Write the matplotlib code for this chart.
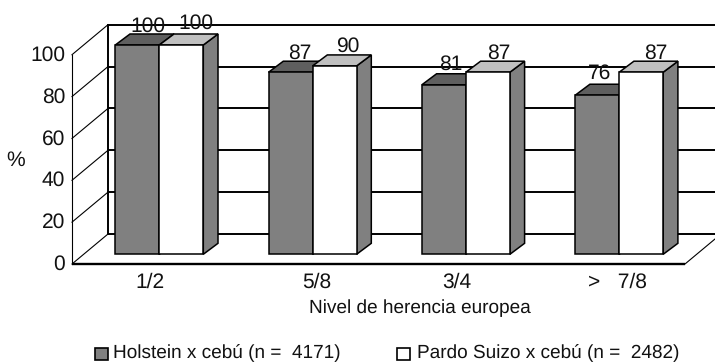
import matplotlib
matplotlib.use("Agg")
import matplotlib.pyplot as plt
from matplotlib.patches import Polygon, Rectangle

plt.rcParams['font.family'] = ['Liberation Sans Narrow', 'Liberation Sans', 'DejaVu Sans']
plt.rcParams['text.hinting'] = 'no_hinting'
plt.rcParams['text.hinting_factor'] = 1

categories = ['1/2', '5/8', '3/4', '>   7/8']
holstein = [100, 87, 81, 76]
pardo = [100, 90, 87, 87]
y_ticks = [0, 20, 40, 60, 80, 100]
name_holstein = 'Holstein x cebú (n =  4171)'
name_pardo = 'Pardo Suizo x cebú (n =  2482)'

W, H = 715, 363
X0, SX = 159.3, 153.3   # pixel of first group centre, pixels per category
Y0, SY = 254.3, 2.093   # pixel of value 0 on the bar base, pixels per %
FS = 15.3
FS_LONG = 13.8
TC = '#111111'

def dx(px):
    return px / SX

def dy(px):
    return px / SY

fig = plt.figure(figsize=(W / 100, H / 100), dpi=100)
ax = fig.add_axes([0, 0, 1, 1])
ax.set_xlim(-X0 / SX, (W - X0) / SX)
ax.set_ylim((Y0 - H) / SY, Y0 / SY)
ax.axis('off')

def px(x_pixel):
    return (x_pixel - X0) / SX

def py(y_pixel):
    return (Y0 - y_pixel) / SY

# chart box
front_l, back_l = px(72), px(108)
front_r, back_r = px(685), px(721)
front_base, back_base = py(264), py(234)
thin, thick = 0.8, 1.4

for v in y_ticks:
    ax.plot([front_l, back_l], [front_base + v, back_base + v], color='black', lw=thin, zorder=1)
    ax.plot([back_l, back_r], [back_base + v, back_base + v], color='black', lw=thick, zorder=1,
            solid_capstyle='butt')
    ax.text(px(65), front_base + v - dy(6), str(v), ha='right', va='baseline', fontsize=FS, color=TC)
ax.plot([front_l, front_l], [front_base, front_base + 100], color='black', lw=thin, zorder=1)
ax.plot([back_l, back_l], [back_base, back_base + 100], color='black', lw=thick, zorder=1)
ax.plot([front_l, front_r], [front_base, front_base], color='black', lw=thick + 0.3, zorder=1,
        solid_capstyle='butt')
ax.plot([front_r, back_r], [front_base, back_base], color='black', lw=thin, zorder=1)

# bars
bw = dx(44)
ddx, ddy = dx(14.7), dy(11)
edge = dict(edgecolor='black', linewidth=1.1, joinstyle='miter')

def bar3d(x, v, front, top, side, z):
    ax.add_patch(Polygon([(x + bw, 0), (x + bw + ddx, ddy), (x + bw + ddx, v + ddy), (x + bw, v)],
                         facecolor=side, zorder=z, **edge))
    ax.add_patch(Polygon([(x, v), (x + ddx, v + ddy), (x + bw + ddx, v + ddy), (x + bw, v)],
                         facecolor=top, zorder=z, **edge))
    ax.bar(x, v, width=bw, align='edge', color=front, zorder=z + 0.1, **edge)

label_nudges_h = [(3.5, 2), (2, 2), (0, 4), (-4.5, 5)]
label_nudges_p = [(7.5, 5), (6, 3), (3.7, 2), (7.5, 2)]
cat_nudges = [-9, 4.4, -9, -2]

for i, cat in enumerate(categories):
    bar3d(i - bw, holstein[i], '#808080', '#5f5f5f', '#808080', 3)
    bar3d(i, pardo[i], '#ffffff', '#c0c0c0', '#808080', 4)
    nx, ny = label_nudges_h[i]
    ax.text(i - bw / 2 + ddx / 2 + dx(nx), holstein[i] + ddy + dy(ny), str(holstein[i]),
            ha='center', va='baseline', fontsize=FS, color=TC, zorder=6)
    nx, ny = label_nudges_p[i]
    ax.text(i + bw / 2 + ddx / 2 + dx(nx), pardo[i] + ddy + dy(ny), str(pardo[i]),
            ha='center', va='baseline', fontsize=FS, color=TC, zorder=6)
    ax.text(i + dx(cat_nudges[i]), py(288), cat, ha='center', va='baseline',
            fontsize=FS, color=TC)

ax.text(px(420), py(313), 'Nivel de herencia europea', ha='center', va='baseline',
        fontsize=13.9, color=TC)
ax.text(px(16), py(166), '%', ha='center', va='baseline', fontsize=FS, color=TC)

# legend
for x_sw, x_tx, col, name in [(95.5, 113, '#808080', name_holstein), (397.5, 417, '#ffffff', name_pardo)]:
    ax.add_patch(Rectangle((px(x_sw), py(359.5)), dx(12.5), dy(12), facecolor=col,
                           edgecolor='black', linewidth=1.2))
    ax.text(px(x_tx), py(358.5), name, ha='left', va='baseline', fontsize=FS_LONG, color=TC)

fig.savefig('out.png', dpi=100)
